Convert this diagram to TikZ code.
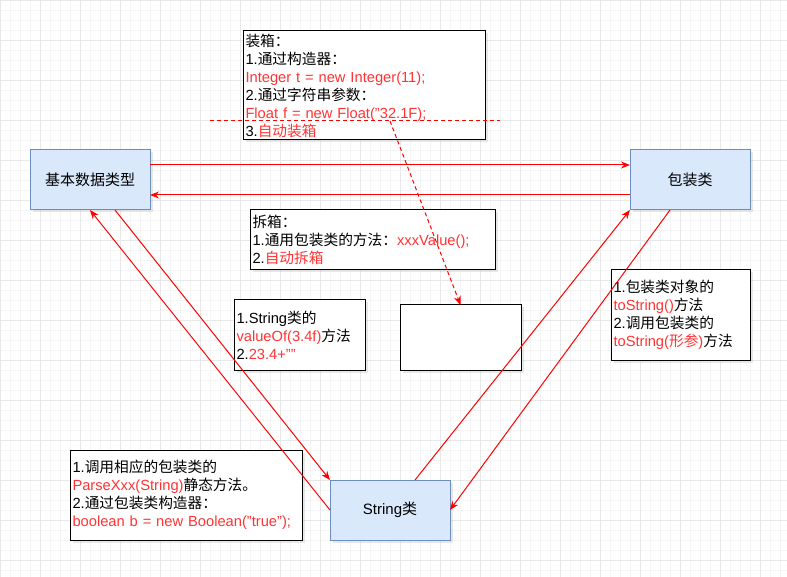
\documentclass[tikz,border=0pt]{standalone}
\usepackage{fontspec}
\setmainfont{Liberation Sans}
\newfontfamily\cjk{Noto Sans CJK SC}
\usetikzlibrary{arrows.meta,shadows}
\definecolor{boxfill}{HTML}{DAE8FC}
\definecolor{boxline}{HTML}{6C8EBF}
\definecolor{txtred}{HTML}{FF3333}
\newcommand\zh[1]{{\cjk #1}}
\newcommand\hl[1]{\textcolor{txtred}{#1}}
\tikzset{
  gridminor/.style={draw=gray!8, line width=0.6pt},
  gridmajor/.style={draw=gray!18, line width=0.6pt},
  entity/.style={draw=boxline, fill=boxfill, line width=1pt, outer sep=0pt,
    minimum width=120pt, minimum height=60pt,
    drop shadow={shadow xshift=2.5pt, shadow yshift=-2.5pt, opacity=0.18},
    font=\fontsize{15}{17}\selectfont},
  note/.style={draw=black, fill=white, line width=1pt, outer sep=0pt,
    align=left, anchor=west, inner xsep=2.5pt, inner ysep=0pt,
    drop shadow={shadow xshift=2.5pt, shadow yshift=-2.5pt, opacity=0.18},
    font=\fontsize{14.7}{18}\selectfont},
  flow/.style={draw=red, line width=1pt, -{Stealth[length=9pt,width=7pt]}},
  cutline/.style={draw=red, line width=1pt, dash pattern=on 4pt off 3pt}
}
\begin{document}
\begin{tikzpicture}[x=1pt, y=-1pt]
  \useasboundingbox[fill=white] (0,0) rectangle (787,577);
  % background grid
  \foreach \gx in {0,10,...,780} \draw[gridminor] (\gx,0) -- (\gx,577);
  \foreach \gy in {0,10,...,570} \draw[gridminor] (0,\gy) -- (787,\gy);
  \foreach \gx in {0,40,...,780} \draw[gridmajor] (\gx,0) -- (\gx,577);
  \foreach \gy in {0,40,...,570} \draw[gridmajor] (0,\gy) -- (787,\gy);

  % main types
  \node[entity] (base) at (90,180) {\zh{基本数据类型}};
  \node[entity] (wrapper) at (690,180) {\zh{包装类}};
  \node[entity] (str) at (390,510) {String\zh{类}};

  % notes
  \node[note, text width=237pt, minimum height=109pt] (boxing) at (243,85.5)
    {\zh{装箱：}\\
     1.\zh{通过构造器：}\\
     \hl{Integer t = new Integer(11);}\\
     2.\zh{通过字符串参数：}\\
     \hl{Float f = new Float("32.1F);}\\
     3.\hl{\zh{自动装箱}}};
  \node[note, text width=240pt, minimum height=60pt] (unboxing) at (250,240)
    {\zh{拆箱：}\\
     1.\zh{通用包装类的方法：}\hl{xxxValue();}\\
     2.\hl{\zh{自动拆箱}}};
  \node[note, text width=126pt, minimum height=70pt] (tostr) at (234,335)
    {1.String\zh{类的}\\
     \hl{valueOf(3.4f)}\zh{方法}\\
     2.\hl{23.4+""}};
  \node[note, text width=134pt, minimum height=90pt] (wrapstr) at (611,315)
    {1.\zh{包装类对象的}\\
     \hl{toString()}\zh{方法}\\
     2.\zh{调用包装类的}\\
     \hl{toString(\zh{形参})}\zh{方法}};
  \node[note, text width=227pt, minimum height=90pt] (parse) at (70,495)
    {1.\zh{调用相应的包装类的}\\
     \hl{ParseXxx(String)}\zh{静态方法。}\\
     2.\zh{通过包装类构造器：}\\
     \hl{boolean b = new Boolean("true");}};
  \node[note, anchor=center, minimum width=121pt, minimum height=65pt] (blank) at (460.5,337.5) {};

  % conversions
  \draw[flow] ([yshift=15pt]base.east) -- ([yshift=15pt]wrapper.west);
  \draw[flow] ([yshift=-15pt]wrapper.west) -- ([yshift=-15pt]base.east);
  \draw[flow] ([xshift=25pt]base.south) -- (str.north west);
  \draw[flow] (str.west) -- (base.south);
  \draw[flow] ([xshift=25pt]str.north) -- (wrapper.south west);
  \draw[flow] ([xshift=-20pt]wrapper.south) -- (str.east);

  % red cut line
  \coordinate (cutL) at (210,121);
  \coordinate (cutR) at (500,121);
  \coordinate (cutP) at (390,121);
  \draw[cutline] (cutL) -- (cutR);
  \draw[flow, cutline] (cutP) -- (blank.north);
\end{tikzpicture}
\end{document}
